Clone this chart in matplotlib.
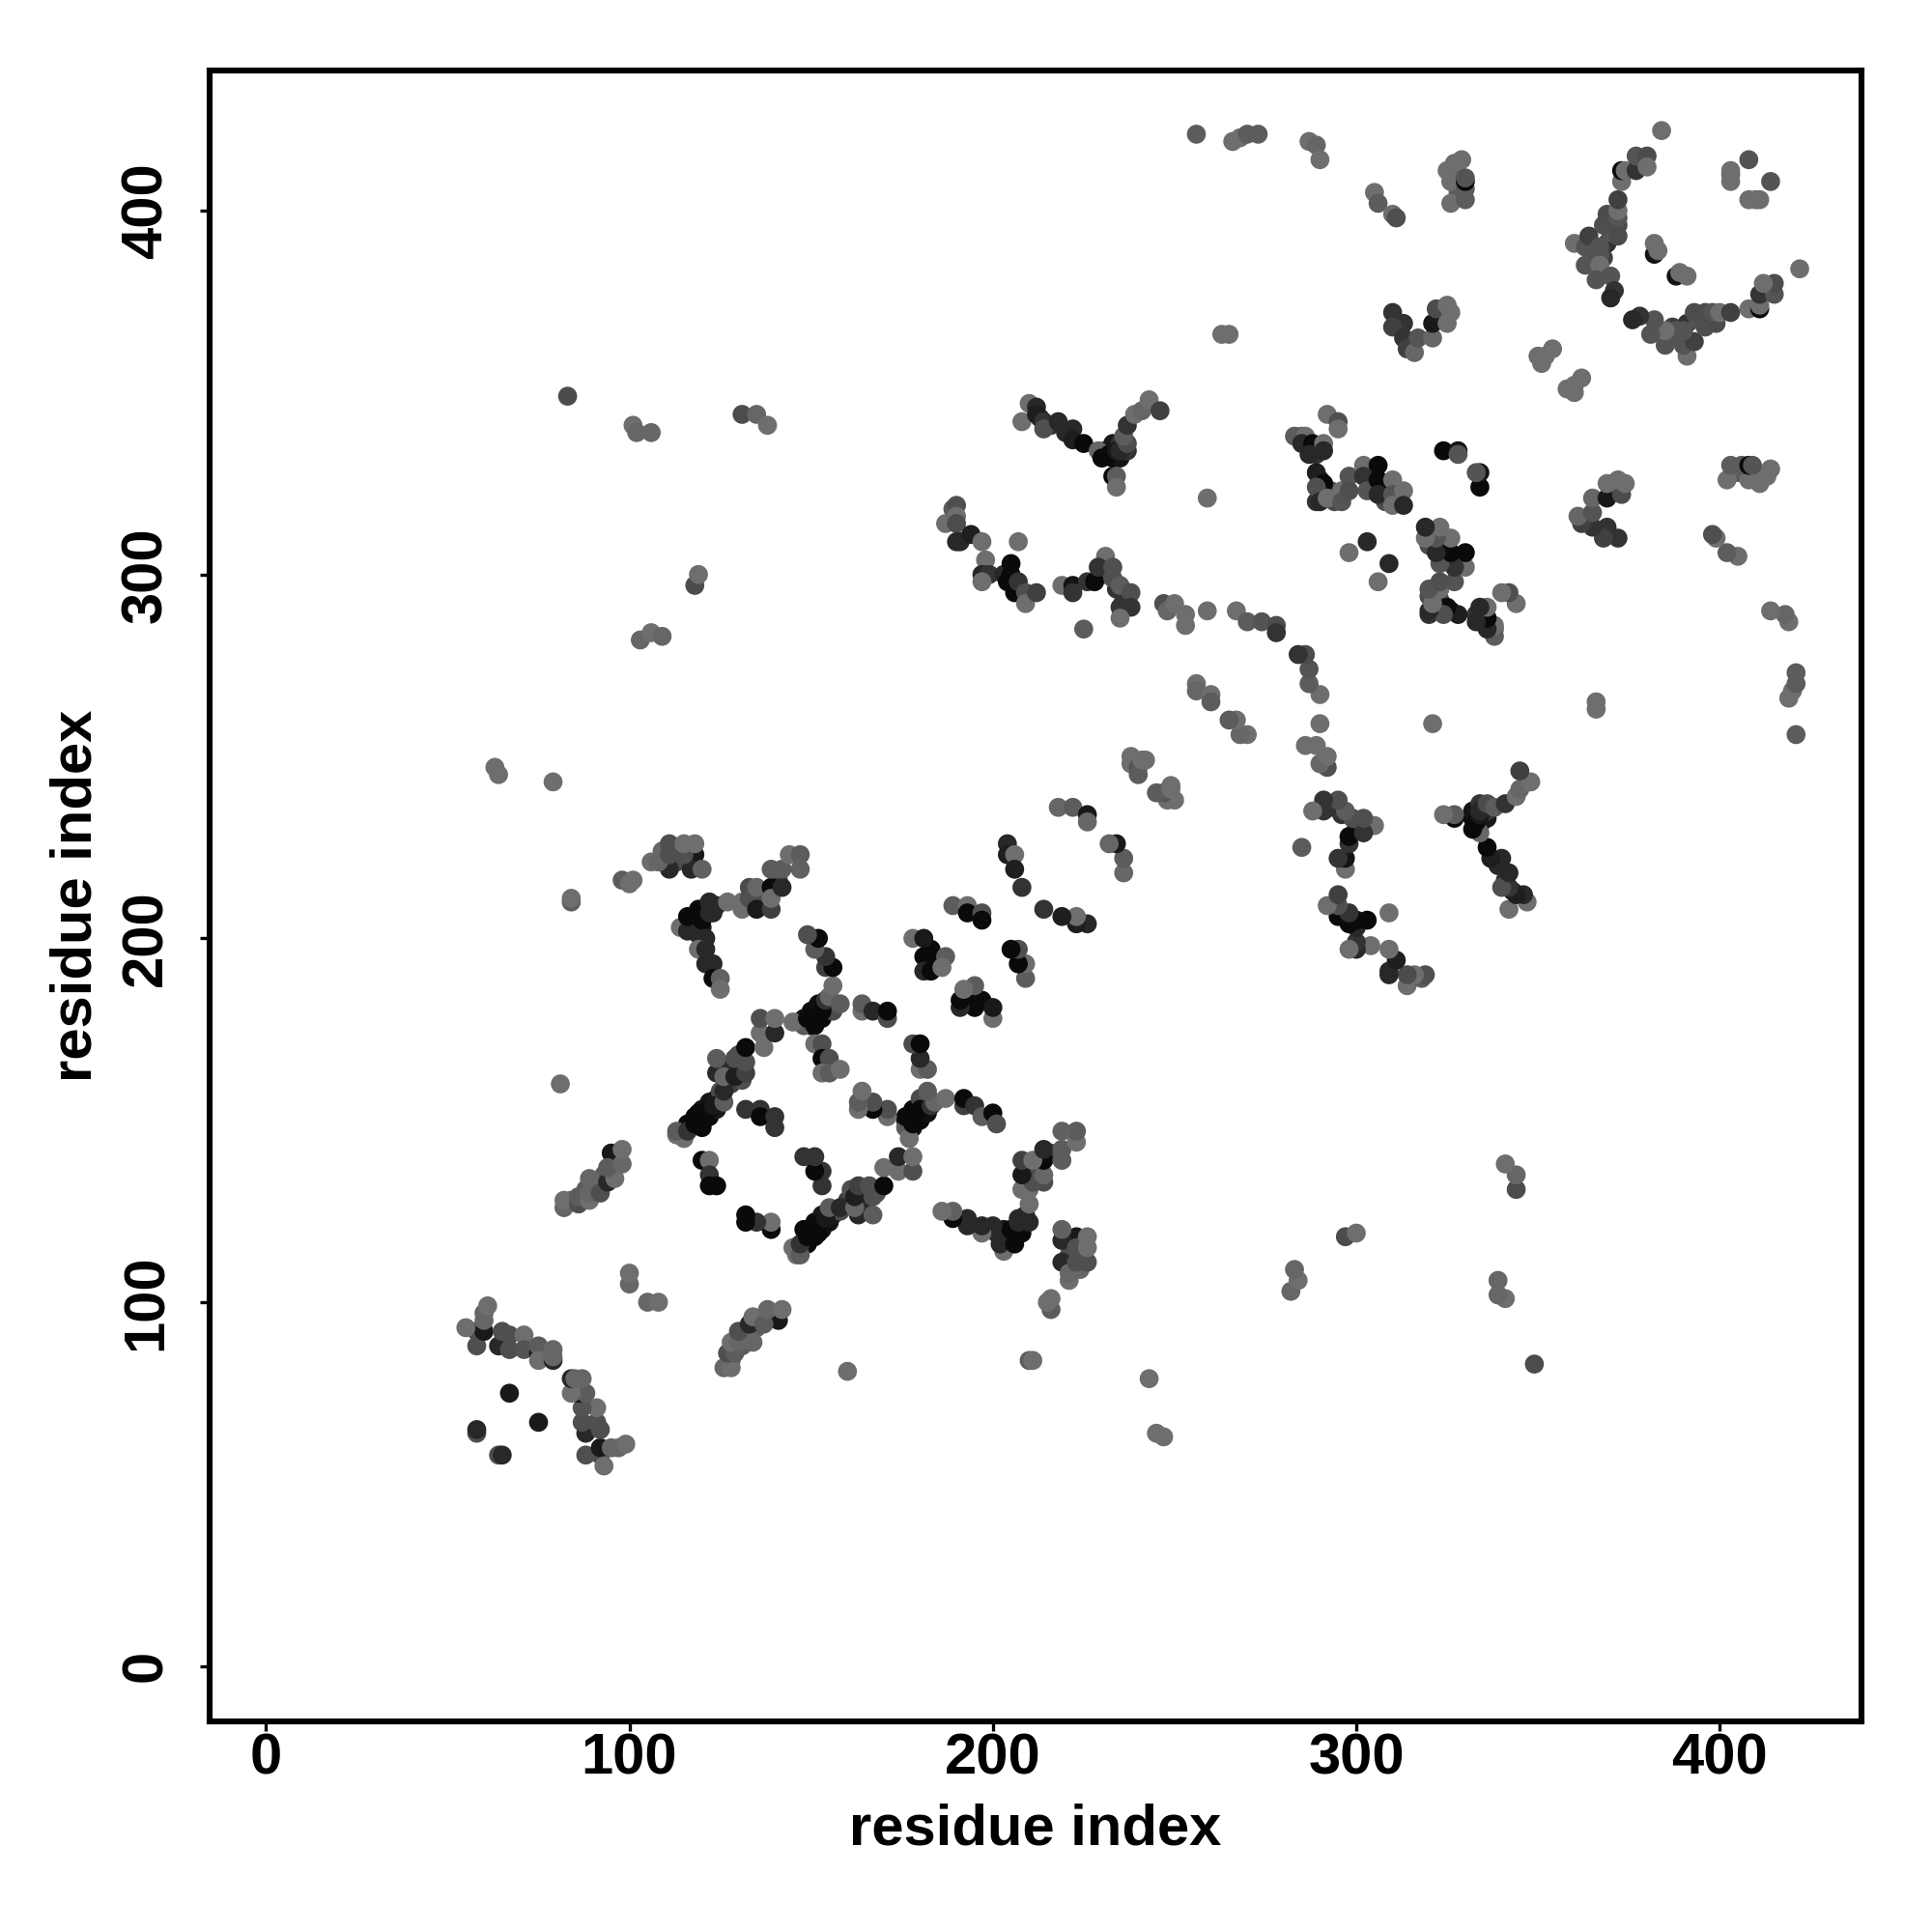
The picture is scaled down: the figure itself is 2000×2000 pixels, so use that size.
import numpy as np
import matplotlib.pyplot as plt

plt.rcParams['font.family'] = ['Liberation Sans', 'DejaVu Sans']
plt.rcParams['font.weight'] = 'bold'
plt.rcParams['font.size'] = 21.5

# contacts, upper triangle only (map is symmetric)
residue_i = [
    58, 58, 60, 55, 60, 60, 61, 64, 65, 67, 67, 71, 71, 75, 75, 75, 79, 79, 79,
    58, 58, 67, 100, 100,
    95, 82, 82, 86, 86, 89, 89, 89, 92, 94, 96, 94, 98, 98,
    81, 84, 84, 98, 100, 101, 79, 63, 64, 83, 101, 102, 106, 131, 135, 138, 103, 106, 109, 118, 119,
    111, 118, 117, 106, 108, 109, 111, 111, 115, 115, 118, 120,
    114, 116, 116, 119, 120, 122, 122, 121, 119, 121, 121, 123, 123, 125, 125,
    127, 131, 131, 133, 135, 135, 139, 139, 139, 142, 139, 142, 144, 147, 147,
    148, 145, 149, 151, 151, 153, 154, 155, 158, 156, 154, 156, 154, 151, 152, 149,
    164, 164, 167, 171, 171,
    113, 115, 113, 116, 118, 120, 119, 120, 122, 123, 126, 126, 124, 124, 126, 129, 129, 132, 132, 132, 137, 136, 140, 136, 140,
    132, 136, 136, 140, 140, 120, 122, 122, 122, 124,
    151, 153, 153, 155, 153, 155, 158,
    178, 181, 181, 183, 181, 183, 187, 186,
    189, 193, 193, 197, 197, 204, 204, 206, 206, 208, 218, 222, 226, 226,
    187, 189, 190, 190, 190, 190, 191, 194, 197, 198, 197, 199, 197, 203, 204, 205, 205, 206, 207, 207, 209, 209, 212,
    219, 222, 222, 226, 228, 231, 229, 233, 233, 235, 238, 235, 238, 235, 225,
    247, 248, 250, 253, 253, 259, 267, 270, 274, 278, 278, 259,
    208, 210, 212, 212, 214, 214, 218, 222, 222, 225, 229, 230, 232, 234, 235, 237, 236, 237, 239, 241, 243, 246,
    233, 234, 234,
    238, 238, 240, 240, 241, 242, 256, 256, 260, 260, 263, 265,
    283, 285, 286, 285, 288, 287, 291, 291, 292, 295, 295,
    289, 291, 289, 290, 292, 296, 296, 298, 298,
    302, 306, 302, 303, 306, 306, 310, 310, 313, 310, 313,
    298, 303, 324, 328, 328,
    310, 313, 310, 313, 314, 316, 317, 321, 321, 322, 325, 325, 326,
    287, 289, 290, 305, 306, 310, 311,
    326, 330, 326, 325, 330, 330, 330, 329,
    256, 266, 268, 270, 273,
    360, 363, 363, 364, 367, 367, 367, 366, 370, 371, 370, 368, 369, 372, 372, 372, 372, 372,
    373, 373, 374, 377, 377, 380, 380, 384,
    382, 382, 383, 350, 351, 352, 354, 403, 403, 408, 403,
]
residue_j = [
    88, 92, 92, 93, 95, 97, 99, 88, 92, 91, 87, 91, 87, 86, 88, 84, 84, 87, 85,
    64, 65, 75, 105, 108,
    141, 126, 128, 127, 129, 128, 130, 134, 130, 133, 134, 137, 138, 142,
    160, 210, 211, 216, 215, 216, 243, 247, 245, 349, 341, 339, 339, 344, 344, 341, 282, 284, 283, 297, 300,
    219, 223, 219, 221, 221, 224, 226, 223, 223, 226, 226, 219,
    203, 202, 206, 208, 205, 210, 207, 200, 197, 197, 193, 193, 189, 189, 186,
    210, 210, 208, 211, 214, 208, 208, 214, 211, 214, 219, 219, 223, 223, 219,
    176, 177, 178, 178, 176, 180, 183, 184, 182, 187, 192, 192, 195, 197, 200, 201,
    180, 182, 180, 178, 180,
    146, 145, 147, 147, 149, 148, 152, 151, 153, 154, 155, 158, 163, 167, 162, 162, 167, 163, 166, 170, 170, 174, 174, 178, 178,
    153, 153, 151, 151, 148, 139, 139, 135, 132, 132,
    171, 171, 167, 167, 163, 163, 164,
    200, 200, 195, 195, 191, 191, 195, 192,
    209, 209, 207, 207, 205, 226, 223, 223, 219, 214, 236, 236, 234, 232,
    314, 318, 319, 316, 314, 309, 309, 311, 309, 304, 300, 300, 298, 300, 298, 303, 300, 295, 298, 309, 295, 292, 295,
    297, 297, 295, 298, 298, 305, 302, 302, 299, 297, 295, 291, 291, 288, 285,
    292, 290, 292, 286, 289, 290, 290, 287, 287, 286, 284, 321,
    342, 347, 346, 344, 342, 340, 342, 340, 337, 336, 334, 332, 333, 334, 334, 336, 338, 341, 344, 345, 348, 345,
    327, 327, 324,
    248, 250, 247, 245, 249, 249, 270, 268, 267, 265, 366, 366,
    338, 338, 338, 336, 336, 333, 336, 334, 344, 342, 340,
    328, 325, 324, 320, 321, 323, 320, 327, 323,
    330, 330, 327, 323, 326, 322, 326, 322, 323, 319, 319,
    306, 309, 334, 334, 333,
    372, 369, 368, 365, 362, 361, 365, 365, 369, 373, 374, 369, 372,
    419, 418, 414, 405, 402, 399, 398,
    402, 403, 408, 411, 406, 408, 409, 414,
    421, 419, 420, 421, 421,
    391, 385, 390, 393, 388, 390, 385, 381, 382, 378, 376, 396, 399, 393, 396, 398, 400, 403,
    408, 411, 411, 411, 415, 415, 412, 422,
    388, 391, 389, 360, 358, 360, 362, 410, 408, 414, 411,
]
shade = [
    .31, .31, .10, .43, .40, .40, .43, .16, .31, .31, .31, .43, .33, .10, .36, .43, .16, .40, .40,
    .31, .16, .10, .40, .43,
    .10, .40, .43, .31, .36, .43, .40, .40, .31, .16, .43, .36, .40, .43,
    .43, .36, .43, .36, .43, .43, .43, .43, .43, .30, .43, .40, .40, .30, .40, .43, .40, .43, .40, .30, .43,
    .16, .10, .16, .43, .40, .40, .31, .31, .31, .43, .43, .38,
    .43, .16, .04, .04, .04, .16, .16, .16, .43, .16, .16, .16, .04, .38, .43,
    .43, .43, .43, .31, .40, .10, .25, .04, .43, .16, .36, .36, .43, .36, .38,
    .36, .43, .04, .04, .04, .04, .20, .40, .36, .43, .25, .04, .20, .36, .04, .31,
    .43, .36, .16, .30, .04,
    .43, .43, .36, .20, .04, .04, .04, .04, .04, .10, .36, .16, .16, .36, .40, .12, .31, .25, .31, .04, .43, .43, .16, .31, .43,
    .20, .20, .04, .20, .20, .04, .43, .20, .04, .04,
    .43, .31, .04, .31, .43, .36, .43,
    .43, .10, .04, .04, .16, .04, .36, .43,
    .36, .43, .04, .31, .04, .16, .12, .43, .12, .20, .40, .36, .10, .40,
    .43, .36, .31, .43, .30, .16, .16, .12, .43, .43, .16, .20, .43, .16, .04, .04, .04, .04, .20, .43, .31, .43, .25,
    .43, .08, .20, .20, .04, .43, .20, .31, .31, .36, .31, .20, .20, .43, .36,
    .31, .40, .43, .43, .43, .43, .43, .36, .33, .30, .20, .43,
    .43, .43, .16, .12, .20, .31, .16, .16, .12, .04, .40, .04, .04, .10, .16, .30, .36, .20, .43, .40, .43, .25,
    .04, .36, .43,
    .43, .43, .33, .36, .43, .43, .43, .40, .43, .36, .43, .43,
    .36, .36, .43, .16, .04, .16, .43, .16, .43, .31, .43,
    .12, .04, .31, .16, .43, .43, .33, .33, .31,
    .43, .04, .20, .33, .04, .16, .43, .33, .43, .43, .16,
    .43, .16, .04, .08, .33,
    .20, .20, .25, .20, .25, .40, .33, .40, .10, .30, .43, .43, .43,
    .43, .40, .43, .43, .36, .43, .31,
    .43, .36, .43, .43, .36, .04, .33, .43,
    .36, .43, .43, .36, .36,
    .43, .33, .33, .25, .33, .33, .43, .33, .33, .20, .16, .31, .30, .30, .30, .33, .43, .25,
    .43, .04, .43, .20, .33, .30, .43, .43,
    .08, .43, .43, .43, .43, .43, .43, .40, .43, .33, .43,
]

# points buried in the thick strands, they get drawn underneath
buried_i = [
    116, 118, 120, 122, 124, 120, 122, 124,
    150, 152, 154, 155, 150, 152, 148, 153, 156,
    118, 121, 118, 120, 117, 123, 124, 119,
    231, 233, 235, 233, 235, 237, 213, 216, 220,
    365, 369, 371, 370, 368, 365,
    133, 137, 135, 137, 141,
    127, 130, 128, 125, 131,
    182, 183, 113, 116, 113,
    231, 234, 236, 287, 289, 290, 293, 294, 289,
    304, 308, 308, 312, 328, 328, 327,
    84, 88, 91, 93,
]
buried_j = [
    149, 151, 153, 155, 156, 149, 151, 153,
    176, 178, 180, 181, 180, 182, 178, 178, 180,
    206, 208, 203, 203, 204, 207, 209, 201,
    334, 336, 336, 332, 332, 334, 343, 341, 339,
    386, 391, 396, 394, 387, 390,
    214, 210, 211, 212, 216,
    165, 168, 160, 158, 161,
    193, 197, 224, 224, 221,
    300, 296, 293, 335, 333, 326, 323, 320, 320,
    326, 324, 320, 321, 405, 410, 413,
    128, 131, 133, 135,
]
buried_shade = [
    .04, .04, .08, .08, .10, .04, .04, .10,
    .04, .04, .08, .10, .04, .06, .08, .04, .30,
    .04, .04, .06, .10, .08, .16, .16, .16,
    .04, .10, .20, .04, .08, .20, .12, .20, .16,
    .30, .20, .20, .33, .25, .33,
    .30, .25, .16, .30, .30,
    .16, .31, .25, .30, .31,
    .04, .04, .31, .20, .30,
    .30, .20, .20, .12, .20, .04, .30, .30, .20,
    .20, .04, .30, .43, .36, .40, .43,
    .36, .36, .40, .36,
]
ticks = [0, 100, 200, 300, 400]

fig = plt.figure(figsize=(10, 10), dpi=200)
ax = fig.add_axes([217 / 2000, 1 - 1782 / 2000, 1710 / 2000, 1709 / 2000])

ax.scatter(buried_i + buried_j, buried_j + buried_i, s=50, c=buried_shade + buried_shade,
           cmap='gray', vmin=0, vmax=1, linewidths=0)
ax.scatter(residue_i + residue_j, residue_j + residue_i, s=50, c=shade + shade,
           cmap='gray', vmin=0, vmax=1, linewidths=0)

ax.set_xlim(-15.5, 439)
ax.set_ylim(-15.2, 438.5)
ax.set_xticks(ticks)
ax.set_yticks(ticks)
ax.set_yticklabels(ticks, rotation=90, va='center')
ax.tick_params(axis='x', length=3.5, width=1.2, pad=0.6)
ax.tick_params(axis='y', length=3.5, width=1.2, pad=10)
for s in ax.spines.values():
    s.set_linewidth(2.2)

ax.set_xlabel('residue index', fontweight='bold', labelpad=6.7)
ax.set_ylabel('residue index', fontweight='bold', labelpad=6.5)

plt.savefig('out.png', dpi=200)
